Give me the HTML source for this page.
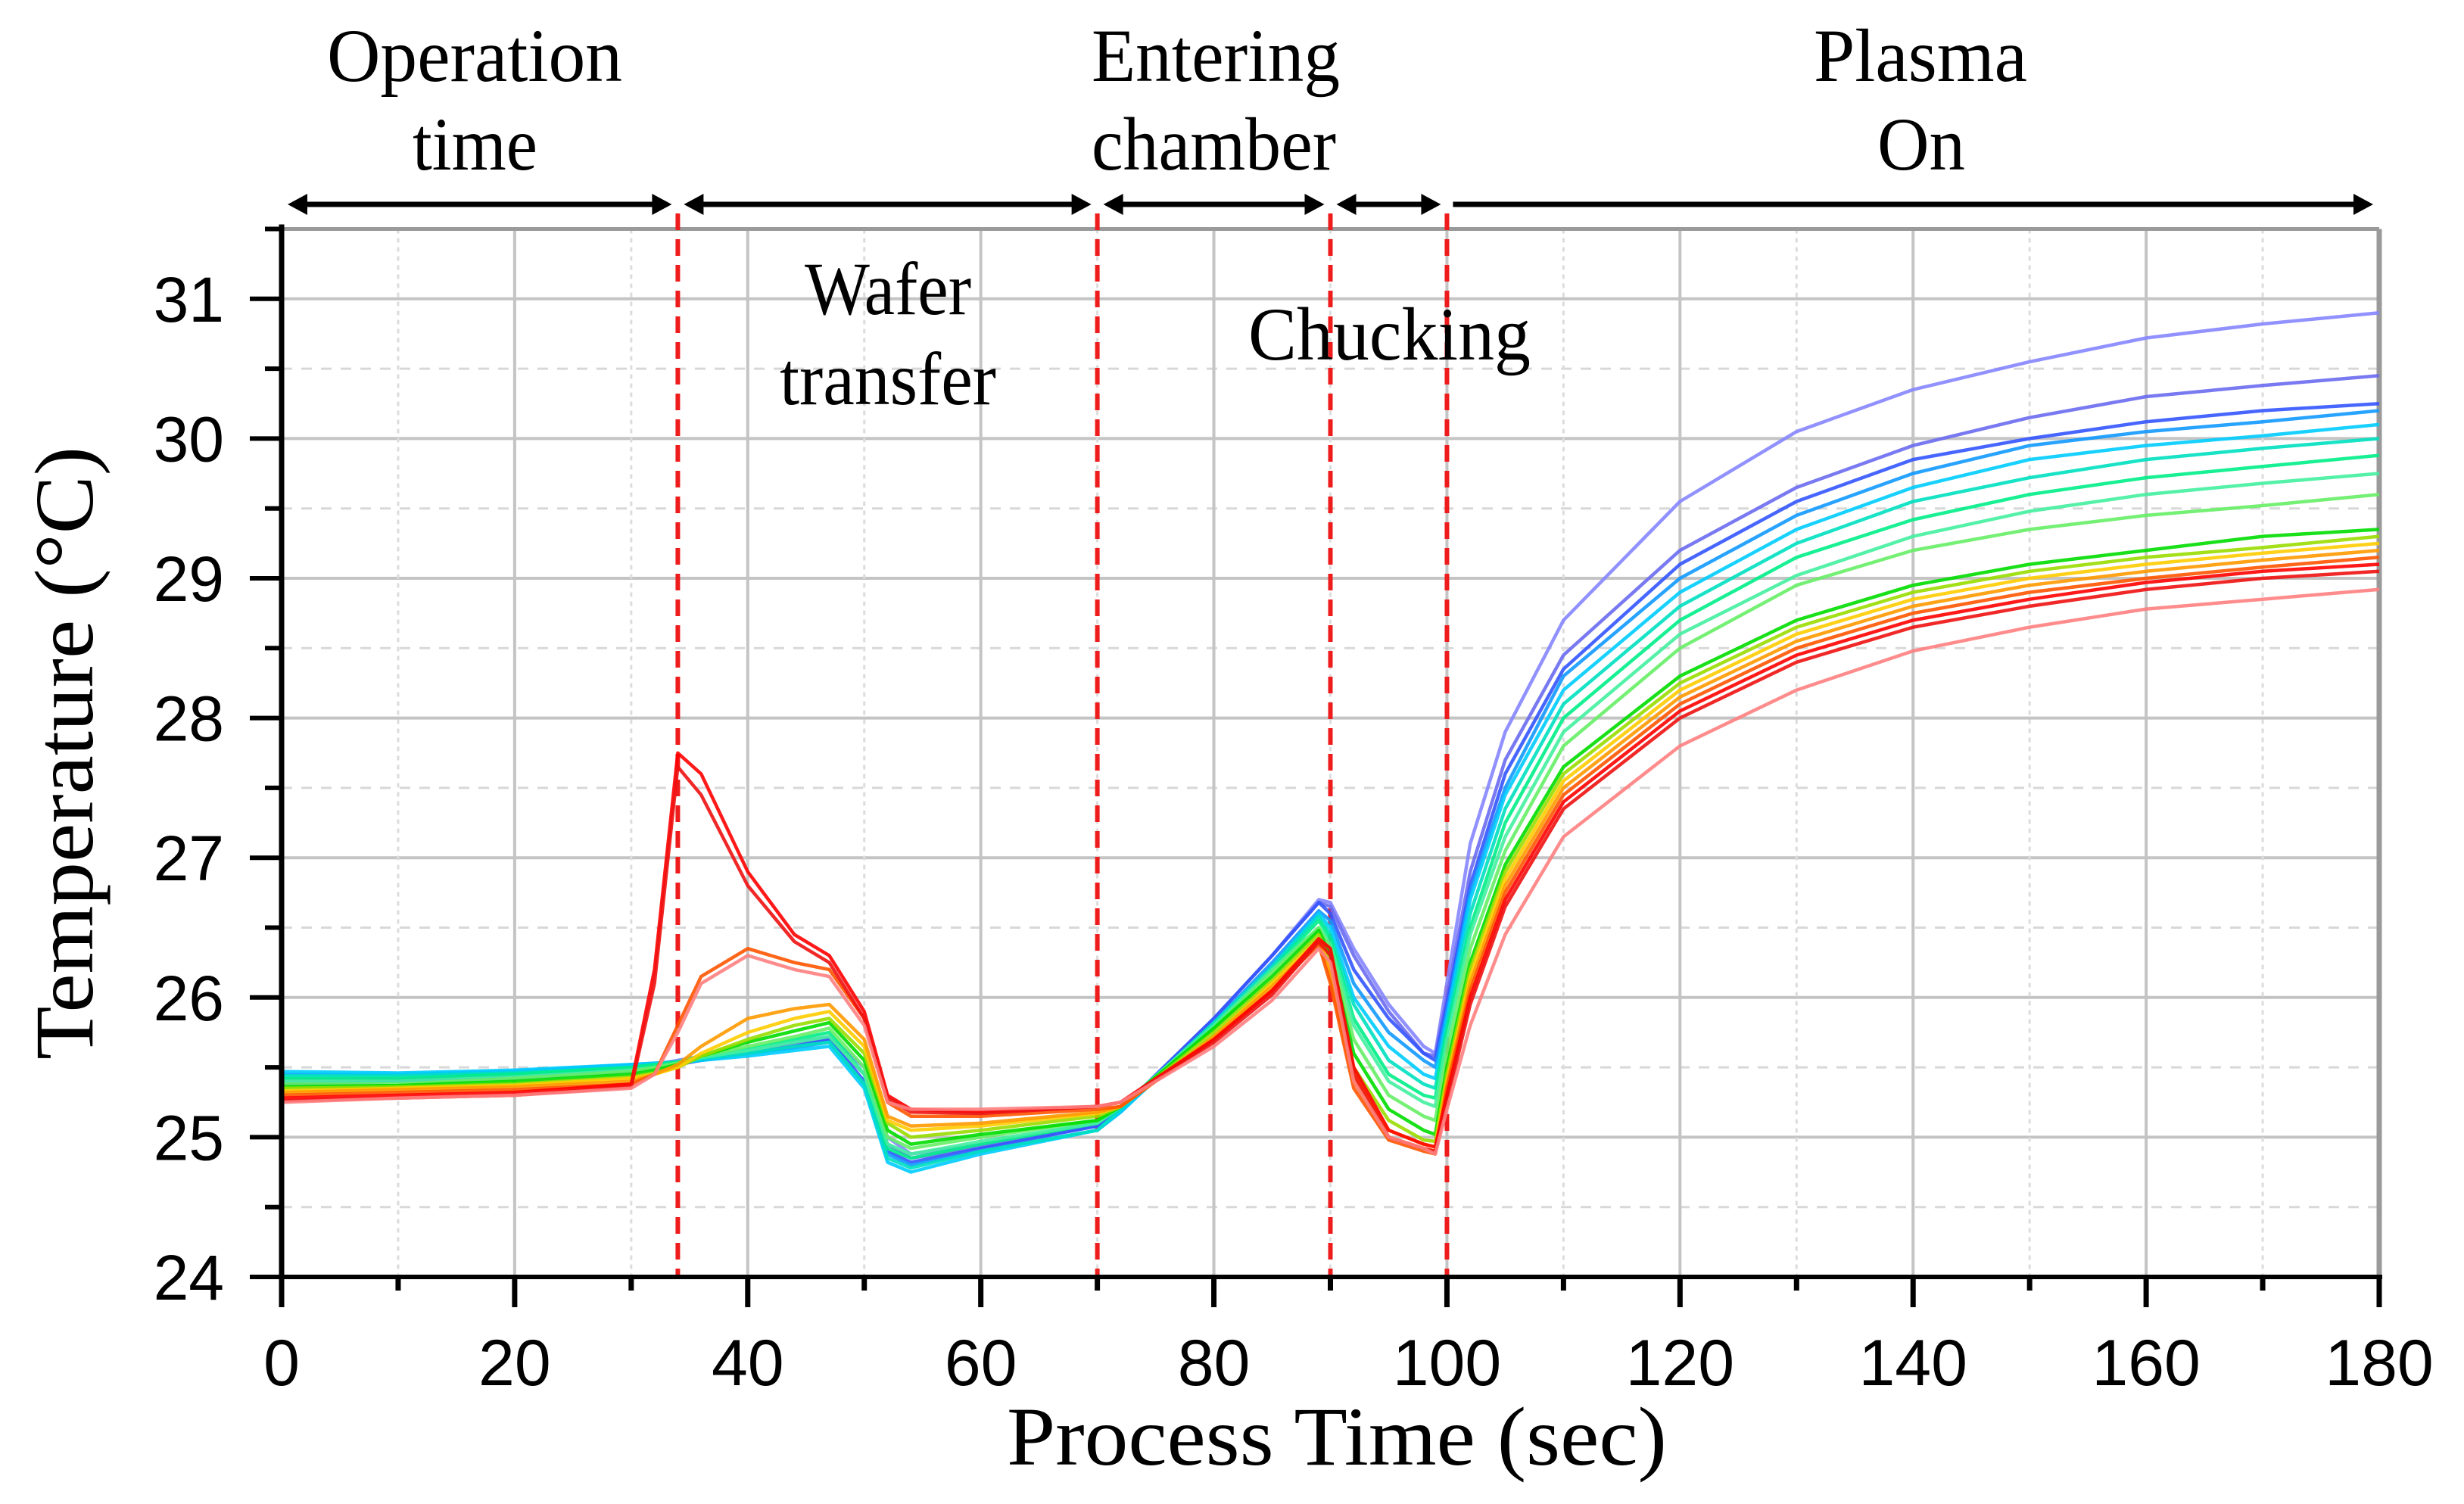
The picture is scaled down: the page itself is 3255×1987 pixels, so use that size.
<!DOCTYPE html>
<html><head><meta charset="utf-8"><style>
html,body{margin:0;padding:0;background:#fff;}
svg{display:block;}
.serif{font-family:"Liberation Serif",serif;fill:#000;}
.sans{font-family:"Liberation Sans",sans-serif;fill:#000;}
</style></head><body>
<svg id="chart" width="3255" height="1987" viewBox="0 0 3255 1987" xmlns="http://www.w3.org/2000/svg">
<g id="grid"></g>
<g id="phases"></g>
<g id="series"></g>
<g id="axes"></g>
<g id="labels">
<text class="serif" x="432" y="107" font-size="100" textLength="390" lengthAdjust="spacingAndGlyphs">Operation</text>
<text class="serif" x="545" y="224" font-size="100" textLength="165" lengthAdjust="spacingAndGlyphs">time</text>
<text class="serif" x="1442" y="107" font-size="100" textLength="328" lengthAdjust="spacingAndGlyphs">Entering</text>
<text class="serif" x="1442" y="224" font-size="100" textLength="323" lengthAdjust="spacingAndGlyphs">chamber</text>
<text class="serif" x="2396" y="107" font-size="100" textLength="282" lengthAdjust="spacingAndGlyphs">Plasma</text>
<text class="serif" x="2480" y="224" font-size="100" textLength="116" lengthAdjust="spacingAndGlyphs">On</text>
<text class="serif" x="1063" y="415" font-size="100" textLength="220" lengthAdjust="spacingAndGlyphs">Wafer</text>
<text class="serif" x="1030" y="534" font-size="100" textLength="286" lengthAdjust="spacingAndGlyphs">transfer</text>
<text class="serif" x="1649" y="475" font-size="100" textLength="373" lengthAdjust="spacingAndGlyphs">Chucking</text>
<text class="serif" x="1330" y="1935" font-size="110" textLength="872" lengthAdjust="spacingAndGlyphs">Process Time (sec)</text>
<text class="serif" transform="translate(122,1400) rotate(-90)" x="0" y="0" font-size="110" textLength="810" lengthAdjust="spacingAndGlyphs">Temperature (°C)</text>
</g>
</svg>
<script>
const times = [0,10,20,30,32,34,36,40,44,47,50,52,54,60,70,72,80,85,89,90,92,95,98,99,100,102,105,110,120,130,140,150,160,170,180];
const seriesNames = ["violet1","violet2","blue","dodger","cyan","teal","spring","spring2","lightgreen","green","ygreen","yellow","orange","orangered","red1","red2","lightred"];
const seriesColors = ["#8585ff","#6a6af0","#3355ff","#1199ff","#00ccff","#00e0c0","#00ee88","#44f0a0","#66ee66","#00dd00","#99dd00","#ffcc00","#ff9900","#ff5500","#ff0000","#ee1111","#ff8080"];
const violet1 = [25.42,25.42,25.45,25.5,25.52,25.55,25.58,25.62,25.68,25.72,25.5,25.0,24.88,24.95,25.1,25.2,25.85,26.3,26.7,26.68,26.35,25.95,25.65,25.6,26.1,27.1,27.9,28.7,29.55,30.05,30.35,30.55,30.72,30.82,30.9];
const violet2 = [25.4,25.4,25.43,25.48,25.5,25.53,25.56,25.6,25.66,25.7,25.45,24.95,24.85,24.93,25.08,25.2,25.85,26.3,26.68,26.65,26.3,25.9,25.6,25.58,26.0,26.9,27.7,28.45,29.2,29.65,29.95,30.15,30.3,30.38,30.45];
const blue = [25.38,25.4,25.42,25.47,25.5,25.52,25.55,25.6,25.65,25.7,25.4,24.9,24.82,24.92,25.08,25.2,25.85,26.3,26.68,26.6,26.2,25.85,25.6,25.55,25.95,26.8,27.6,28.35,29.1,29.55,29.85,30.0,30.12,30.2,30.25];
const dodger = [25.45,25.45,25.47,25.52,25.53,25.54,25.56,25.6,25.64,25.68,25.38,24.88,24.8,24.9,25.05,25.18,25.82,26.25,26.62,26.55,26.1,25.75,25.55,25.5,25.9,26.75,27.5,28.3,29.0,29.45,29.75,29.95,30.05,30.12,30.2];
const cyan = [25.47,25.46,25.48,25.52,25.53,25.53,25.55,25.58,25.62,25.65,25.35,24.82,24.75,24.88,25.05,25.18,25.8,26.22,26.6,26.5,26.0,25.65,25.45,25.42,25.85,26.7,27.45,28.2,28.9,29.35,29.65,29.85,29.95,30.02,30.1];
const teal = [25.44,25.44,25.46,25.5,25.52,25.53,25.56,25.6,25.65,25.68,25.38,24.85,24.78,24.9,25.05,25.2,25.82,26.22,26.58,26.45,25.95,25.55,25.38,25.35,25.8,26.6,27.35,28.1,28.8,29.25,29.55,29.72,29.85,29.93,30.0];
const spring = [25.42,25.42,25.45,25.5,25.52,25.54,25.58,25.63,25.7,25.75,25.45,24.92,24.85,24.95,25.1,25.22,25.8,26.2,26.55,26.42,25.85,25.45,25.3,25.28,25.75,26.5,27.25,28.0,28.7,29.15,29.42,29.6,29.72,29.8,29.88];
const spring2 = [25.4,25.4,25.43,25.48,25.5,25.53,25.57,25.62,25.68,25.72,25.45,24.95,24.88,24.97,25.1,25.22,25.8,26.2,26.5,26.38,25.8,25.4,25.25,25.22,25.7,26.45,27.15,27.9,28.6,29.02,29.3,29.48,29.6,29.68,29.75];
const lightgreen = [25.38,25.38,25.42,25.47,25.5,25.53,25.58,25.65,25.72,25.78,25.5,25.0,24.92,25.0,25.12,25.22,25.78,26.18,26.5,26.35,25.7,25.3,25.15,25.12,25.6,26.35,27.05,27.8,28.5,28.95,29.2,29.35,29.45,29.52,29.6];
const green = [25.36,25.37,25.4,25.45,25.48,25.52,25.58,25.68,25.76,25.82,25.55,25.05,24.95,25.02,25.12,25.22,25.78,26.15,26.48,26.3,25.6,25.2,25.05,25.02,25.5,26.25,26.95,27.65,28.3,28.7,28.95,29.1,29.2,29.3,29.35];
const ygreen = [25.35,25.36,25.38,25.43,25.46,25.5,25.58,25.7,25.8,25.85,25.6,25.1,25.0,25.05,25.15,25.22,25.75,26.12,26.45,26.25,25.5,25.12,24.98,24.97,25.45,26.2,26.9,27.6,28.25,28.65,28.9,29.05,29.15,29.22,29.3];
const yellow = [25.33,25.35,25.37,25.42,25.45,25.5,25.6,25.75,25.85,25.9,25.65,25.12,25.05,25.08,25.17,25.22,25.72,26.1,26.42,26.2,25.45,25.05,24.95,24.93,25.4,26.15,26.85,27.55,28.2,28.6,28.85,29.0,29.1,29.18,29.25];
const orange = [25.32,25.34,25.36,25.4,25.45,25.52,25.65,25.85,25.92,25.95,25.7,25.15,25.08,25.1,25.18,25.22,25.72,26.08,26.4,26.15,25.4,25.0,24.92,24.9,25.38,26.1,26.8,27.5,28.15,28.55,28.8,28.95,29.05,29.13,29.2];
const orangered = [25.3,25.32,25.34,25.38,25.45,25.8,26.15,26.35,26.25,26.2,25.85,25.25,25.15,25.15,25.2,25.22,25.7,26.05,26.38,26.1,25.35,24.98,24.9,24.88,25.35,26.05,26.75,27.45,28.1,28.5,28.75,28.9,29.0,29.08,29.15];
const red1 = [25.28,25.3,25.32,25.38,26.2,27.75,27.6,26.9,26.45,26.3,25.9,25.3,25.2,25.18,25.22,25.25,25.7,26.05,26.42,26.35,25.5,25.05,24.95,24.93,25.3,26.0,26.7,27.4,28.05,28.45,28.7,28.85,28.97,29.05,29.1];
const red2 = [25.26,25.28,25.3,25.36,26.1,27.65,27.45,26.8,26.4,26.25,25.85,25.28,25.18,25.17,25.22,25.25,25.68,26.02,26.4,26.3,25.45,25.0,24.92,24.9,25.25,25.95,26.65,27.35,28.0,28.4,28.65,28.8,28.92,29.0,29.05];
const lightred = [25.25,25.28,25.3,25.35,25.45,25.75,26.1,26.3,26.2,26.15,25.8,25.25,25.2,25.2,25.22,25.25,25.65,25.98,26.35,26.25,25.4,25.0,24.92,24.88,25.2,25.8,26.45,27.15,27.8,28.2,28.48,28.65,28.78,28.85,28.92];
const seriesValues = [violet1,violet2,blue,dodger,cyan,teal,spring,spring2,lightgreen,green,ygreen,yellow,orange,orangered,red1,red2,lightred];
const xTicks = [0,20,40,60,80,100,120,140,160,180];
const yTicks = [24,25,26,27,28,29,30,31];
const phaseBounds = [0,34,70,90,100,180];

const NS="http://www.w3.org/2000/svg";
const X0=372, XS=(3143-372)/180, Y0=1687, YS=184.6;
function xs(t){return X0+t*XS;}
function ys(v){return Y0-(v-24)*YS;}
function mk(tag,attrs,parent){const e=document.createElementNS(NS,tag);for(const k in attrs)e.setAttribute(k,attrs[k]);parent.appendChild(e);return e;}
const grid=document.getElementById('grid'),axes=document.getElementById('axes'),ser=document.getElementById('series'),ph=document.getElementById('phases');
const yTop=ys(31.5), xR=xs(180);
for(let v=24.5;v<=31.01;v+=0.5){
  const major=Math.abs(v-Math.round(v))<0.01;
  const l=mk('line',{x1:X0,x2:xR,y1:ys(v),y2:ys(v),stroke:major?'#c4c4c4':'#d8d8d8','stroke-width':major?4:3,'stroke-dasharray':major?'none':'14,12'},grid);
  
  
}
for(let t=10;t<180;t+=10){
  const major=t%20===0;
  const l=mk('line',{x1:xs(t),x2:xs(t),y1:yTop,y2:Y0,stroke:major?'#c4c4c4':'#dcdcdc','stroke-width':major?4:3,'stroke-dasharray':major?'none':'6,6'},grid);
  
  
}
const topF=mk('line',{x1:X0,x2:xR,y1:yTop,y2:yTop,stroke:'#9a9a9a','stroke-width':5},grid);


const rF=mk('line',{x1:xR,x2:xR,y1:yTop,y2:Y0,stroke:'#9a9a9a','stroke-width':7},grid);


seriesValues.forEach((vals,i)=>{
  const d=vals.map((v,j)=>(j?'L':'M')+xs(times[j]).toFixed(1)+' '+ys(v).toFixed(1)).join(' ');
  const p=mk('path',{d:d,fill:'none',stroke:seriesColors[i],'stroke-width':4.5,'stroke-linejoin':'round','stroke-opacity':0.9},ser);
  
  
});
const AY=270;
for(let i=1;i<phaseBounds.length-1;i++){
  const l=mk('line',{x1:xs(phaseBounds[i]),x2:xs(phaseBounds[i]),y1:AY+12,y2:Y0,stroke:'#ee1c1c','stroke-width':6,'stroke-dasharray':'22,12'},ph);
  
  
}
for(let i=0;i<phaseBounds.length-1;i++){
  const a=xs(phaseBounds[i])+8, b=xs(phaseBounds[i+1])-8;
  const g=mk('g',{},ph);
  
  
  mk('line',{x1:a+20,x2:b-20,y1:AY,y2:AY,stroke:'#000','stroke-width':7},g);
  const left = i===phaseBounds.length-2 ? false : true;
  if(left) mk('polygon',{points:`${a},${AY} ${a+26},${AY-14} ${a+26},${AY+14}`,fill:'#000'},g);
  else mk('line',{x1:a,x2:a+22,y1:AY,y2:AY,stroke:'#000','stroke-width':7},g);
  mk('polygon',{points:`${b},${AY} ${b-26},${AY-14} ${b-26},${AY+14}`,fill:'#000'},g);
}
const ya=mk('line',{x1:X0,x2:X0,y1:yTop-6,y2:Y0+40,stroke:'#000','stroke-width':7},axes);


const xa=mk('line',{x1:X0-42,x2:xR+4,y1:Y0,y2:Y0,stroke:'#000','stroke-width':6},axes);


for(let v=24.5;v<=31.51;v+=0.5){
  const major=Math.abs(v-Math.round(v))<0.01;
  const t=mk('line',{x1:major?X0-42:X0-22,x2:X0,y1:ys(v),y2:ys(v),stroke:'#000','stroke-width':6},axes);
  
  
}
for(let t=10;t<=180;t+=10){
  const major=t%20===0;
  const k=mk('line',{x1:xs(t),x2:xs(t),y1:Y0,y2:Y0+(major?40:18),stroke:'#000','stroke-width':7},axes);
  
  
}
yTicks.forEach(v=>{
  const t=mk('text',{x:296,y:ys(v)+30,'text-anchor':'end','font-size':84,class:'sans'},axes);
  t.textContent=String(v);
  
  
});
xTicks.forEach(v=>{
  const t=mk('text',{x:xs(v),y:1830,'text-anchor':'middle','font-size':86,class:'sans'},axes);
  t.textContent=String(v);
  
  
});
</script>
</body></html>
